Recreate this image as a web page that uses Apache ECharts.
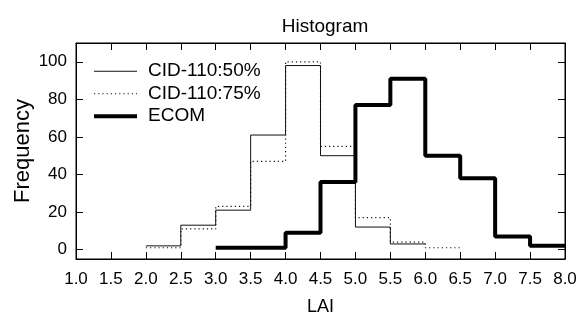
<!DOCTYPE html>
<html>
<head>
<meta charset="utf-8">
<script src="https://cdn.jsdelivr.net/npm/echarts@6/dist/echarts.min.js"></script>
<style>
  html, body { margin: 0; padding: 0; background: #fff; }
  #main { width: 576px; height: 313px; }
</style>
</head>
<body>
<div id="main"></div>
<script>
// bin width on the LAI axis
var binWidth = 0.5;

// left edges of the bins and the counts
var starts50 = [2.0, 2.5, 3.0, 3.5, 4.0, 4.5, 5.0, 5.5];
var counts50 = [2, 13, 21, 61, 98, 50, 12, 3];

var starts75 = [2.0, 2.5, 3.0, 3.5, 4.0, 4.5, 5.0, 5.5, 6.0];
var counts75 = [1, 11, 23, 47, 100, 55, 17, 4, 1];

var startsEcom = [3.0, 3.5, 4.0, 4.5, 5.0, 5.5, 6.0, 6.5, 7.0, 7.5];
var countsEcom = [1, 1, 9, 36, 77, 91, 50, 38, 7, 2];

var yTicks = [0, 20, 40, 60, 80, 100];

var seriesNames = ['CID-110:50%', 'CID-110:75%', 'ECOM'];

// histogram outline: one point per bin edge, drawn as a step line
function stepData(starts, counts) {
    var pts = [];
    for (var i = 0; i < starts.length; i++) {
        pts.push([starts[i], counts[i]]);
    }
    var last = starts.length - 1;
    pts.push([starts[last] + binWidth, counts[last]]);
    return pts;
}

var font = 'Liberation Sans, Arial, sans-serif';

var myChart = echarts.init(document.getElementById('main'));

var option = {
    animation: false,
    backgroundColor: '#fff',
    title: {
        text: 'Histogram',
        left: 320,
        textAlign: 'center',
        top: 12,
        textStyle: { fontFamily: font, fontSize: 19, fontWeight: 'normal', color: '#000' }
    },
    legend: {
        orient: 'vertical',
        left: 92,
        top: 60,
        padding: 0,
        itemWidth: 43,
        itemHeight: 12,
        itemGap: 0,
        itemStyle: { opacity: 0 },
        textStyle: { fontFamily: font, fontSize: 19, color: '#000', lineHeight: 22.5, padding: [0, 0, 0, 6] },
        data: [
            { name: seriesNames[0], lineStyle: { width: 1 } },
            { name: seriesNames[1], lineStyle: { width: 1.2 } },
            { name: seriesNames[2], lineStyle: { width: 4 } }
        ]
    },
    grid: {
        left: 76,
        right: 11,
        top: 43,
        bottom: 54,
        outerBoundsMode: 'none',
        show: true,
        borderColor: '#000',
        borderWidth: 1
    },
    xAxis: [{
        type: 'value',
        min: 1,
        max: 8,
        interval: 0.5,
        name: 'LAI',
        nameLocation: 'middle',
        nameGap: 39,
        nameMoveOverlap: false,
        nameTextStyle: { fontFamily: font, fontSize: 18, color: '#000' },
        axisLine: { onZero: false, lineStyle: { color: '#000' } },
        axisTick: { inside: true, length: 7, lineStyle: { color: '#000' } },
        axisLabel: {
            fontFamily: font, fontSize: 17, color: '#000', margin: 12,
            formatter: function (v) { return v.toFixed(1); }
        },
        splitLine: { show: false }
    }, {
        type: 'value',
        position: 'top',
        min: 1,
        max: 8,
        interval: 0.5,
        axisLine: { onZero: false, lineStyle: { color: '#000' } },
        axisTick: { inside: true, length: 7, lineStyle: { color: '#000' } },
        axisLabel: { show: false },
        splitLine: { show: false }
    }],
    yAxis: [{
        type: 'value',
        min: -5,
        max: 110,
        name: 'Frequency',
        nameLocation: 'middle',
        nameGap: 42,
        nameMoveOverlap: false,
        nameTextStyle: { fontFamily: font, fontSize: 22, color: '#000' },
        axisLine: { show: true, onZero: false, lineStyle: { color: '#000' } },
        axisTick: { inside: true, length: 7, lineStyle: { color: '#000' }, customValues: yTicks },
        axisLabel: { fontFamily: font, fontSize: 17, color: '#000', margin: 9, customValues: yTicks },
        splitLine: { show: false }
    }, {
        type: 'value',
        position: 'right',
        min: -5,
        max: 110,
        axisLine: { show: true, onZero: false, lineStyle: { color: '#000' } },
        axisTick: { inside: true, length: 7, lineStyle: { color: '#000' }, customValues: yTicks },
        axisLabel: { show: false },
        splitLine: { show: false }
    }],
    series: [
        {
            name: seriesNames[0],
            type: 'line',
            step: 'end',
            symbol: 'none',
            data: stepData(starts50, counts50),
            lineStyle: { color: '#111', width: 1 },
            itemStyle: { color: '#111' }
        },
        {
            name: seriesNames[1],
            type: 'line',
            step: 'end',
            symbol: 'none',
            data: stepData(starts75, counts75),
            lineStyle: { color: '#111', width: 1.2, type: [1.2, 3] },
            itemStyle: { color: '#111' }
        },
        {
            name: seriesNames[2],
            type: 'line',
            step: 'end',
            symbol: 'none',
            data: stepData(startsEcom, countsEcom),
            lineStyle: { color: '#000', width: 4, cap: 'butt' },
            itemStyle: { color: '#000' }
        }
    ]
};

myChart.setOption(option);
</script>
</body>
</html>
